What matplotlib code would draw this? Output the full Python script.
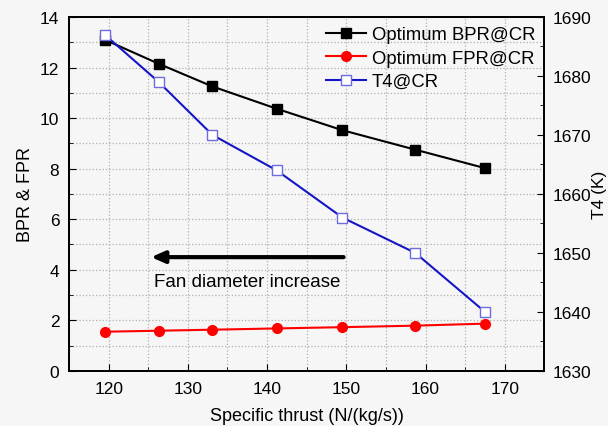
import matplotlib
matplotlib.use('Agg')
import matplotlib.pyplot as plt
from matplotlib.ticker import MultipleLocator

plt.rcParams['font.family'] = ['Liberation Sans', 'DejaVu Sans']

thrust = [119.5, 126.3, 133.1, 141.2, 149.5, 158.7, 167.5]
bpr = [13.1, 12.15, 11.25, 10.37, 9.52, 8.75, 8.02]
fpr = [1.55, 1.59, 1.63, 1.68, 1.73, 1.79, 1.87]
t4 = [1687, 1679, 1670, 1664, 1656, 1650, 1640]

bg = '#f6f6f6'
fig = plt.figure(figsize=(6.08, 4.27), dpi=100, facecolor=bg)
ax = fig.add_axes([0.1135, 0.129, 0.782, 0.829], facecolor=bg)
ax2 = ax.twinx()

l1, = ax.plot(thrust, bpr, '-s', color='black', markersize=6.5, lw=1.5, label='Optimum BPR@CR')
l2, = ax.plot(thrust, fpr, '-o', color='red', markersize=7, lw=1.5, label='Optimum FPR@CR')
l3, = ax2.plot(thrust, t4, '-s', color='#1515c8', markersize=6.5, lw=1.5,
               markerfacecolor='white', markeredgecolor='#6c6ce0', label='T4@CR')

ax.set_xlim(115, 175)
ax.set_ylim(0, 14)
ax2.set_ylim(1630, 1690)

ax.xaxis.set_major_locator(MultipleLocator(10))
ax.xaxis.set_minor_locator(MultipleLocator(5))
ax.yaxis.set_major_locator(MultipleLocator(2))
ax.yaxis.set_minor_locator(MultipleLocator(1))
ax2.yaxis.set_major_locator(MultipleLocator(10))
ax2.yaxis.set_minor_locator(MultipleLocator(5))

ax.grid(True, which='both', color='#b0b0b0', linestyle=':', lw=0.9)
for a in (ax, ax2):
    a.tick_params(which='both', direction='in', labelsize=12.5, pad=7)
    a.tick_params(which='major', length=5)
    a.tick_params(which='minor', length=3)
    for s in a.spines.values():
        s.set_linewidth(1.3)
ax2.tick_params(which='both', pad=6)

ax.set_xlabel('Specific thrust (N/(kg/s))', fontsize=13, labelpad=8)
ax.set_ylabel('BPR & FPR', fontsize=13, labelpad=4)
ax2.set_ylabel('T4 (K)', fontsize=12.5, labelpad=0)

ax.annotate('', xy=(125, 4.5), xytext=(150, 4.5),
            arrowprops=dict(arrowstyle='-|>,head_length=0.8,head_width=0.35', color='black', lw=3))
ax.text(137.5, 3.55, 'Fan diameter increase', ha='center', va='center', fontsize=13.5)

ax.legend(handles=[l1, l2, l3], loc='upper right', frameon=False, fontsize=13.3,
          handlelength=2.2, borderaxespad=0.1, labelspacing=0.35, handletextpad=0.3)

fig.savefig('out.png', dpi=100, facecolor=bg)
